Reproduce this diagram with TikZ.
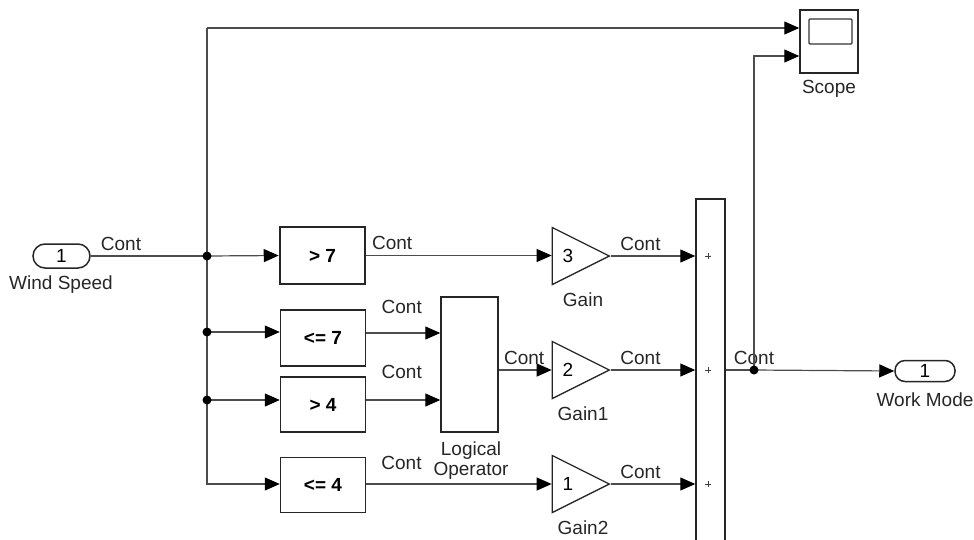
\documentclass[tikz,border=0pt]{standalone}
\usepackage{fontspec}
\setmainfont{Liberation Sans}
\usetikzlibrary{arrows.meta,shapes.geometric,calc}
\newcommand{\simfont}{\fontsize{19}{22}\selectfont}
\tikzset{
	blk/.style={draw=black!85,line width=1.5pt,fill=white,minimum width=85pt,font=\simfont\bfseries,inner sep=0pt},
	port/.style={draw=black!85,line width=1.5pt,rounded corners=10pt,minimum height=21pt,font=\simfont,inner sep=0pt},
	gain/.style={draw=black!85,line width=1.3pt,isosceles triangle,isosceles triangle stretches,minimum width=57pt,minimum height=57pt,inner sep=0pt,font=\simfont,anchor=apex},
	wire/.style={black!70,line width=1.2pt},
	sig/.style={wire,-{Triangle[length=15pt,width=13pt,color=black]}},
	cont/.style={above,font=\simfont,inner sep=5pt,text=black!85},
	dot/.style={circle,fill=black,inner sep=0pt,minimum size=9pt},
	caption/.style={font=\simfont,text=black!85,align=center}
}
\begin{document}
\begin{tikzpicture}[x=1pt,y=-1pt]
	\useasboundingbox (0,0) rectangle (974,539);
	%Cong vao
	\node[port,minimum width=57pt,minimum height=24pt,rounded corners=12pt] (wind) at (61.5,256) {1};
	\node[caption] (windlbl) at (61,285) {Wind Speed};
	%Khoi so sanh
	\node[blk,minimum height=57pt,line width=2.5pt] (gt7) at (322.5,255.5) {> 7};
	\node[blk,minimum height=56pt] (le7) at (323,338) {<= 7};
	\node[blk,minimum height=55pt] (gt4) at (323,404.5) {> 4};
	\node[blk,minimum height=55pt] (le4) at (323,485) {<= 4};
	%Logical Operator
	\node[blk,minimum width=57pt,minimum height=135pt] (logic) at (469.5,364.5) {};
	\node[caption] (logiclbl) at (471,461) {Logical\\[-2pt]Operator};
	%Gain
	\node[gain] (gain) at (611,256) {3\hspace{13pt}};
	\node[gain] (gain1) at (611,370) {2\hspace{13pt}};
	\node[gain] (gain2) at (611,484) {1\hspace{13pt}};
	\node[caption] (gainlbl) at (583,300) {Gain};
	\node[caption] (gain1lbl) at (583,414) {Gain1};
	\node[caption] (gain2lbl) at (583,528) {Gain2};
	%Khoi cong
	\node[blk,minimum width=29pt,minimum height=370pt,anchor=north] (sum) at (710.5,198) {};
	\foreach \y in {256,370,484}
		\draw[black!75,line width=0.9pt] (705,\y) -- (711,\y) (708,\y-3) -- (708,\y+3);
	%Scope
	\node[blk,minimum width=58pt,minimum height=63pt] (scope) at (829,41.5) {};
	\draw[black!80,line width=1.3pt,rounded corners=1pt] (809,19) rectangle (852,44);
	\node[caption] (scopelbl) at (829,89) {Scope};
	%Cong ra
	\node[port,minimum width=60pt] (mode) at (925,371) {1};
	\node[caption] (modelbl) at (925,400) {Work Mode};
	%Diem nut
	\coordinate (j1) at (207,256);
	\coordinate (j2) at (207,332);
	\coordinate (j3) at (207,400);
	\coordinate (c1) at (207,484);
	\coordinate (c0) at (207,28);
	\coordinate (jo) at (754,370);
	\coordinate (c5) at (754,56);
	%Day noi
	\draw[wire] (wind.east) -- (j1) node[cont,pos=0.26]{Cont};
	\draw[sig] (j1) -- (gt7.west);
	\draw[sig] (j2) -- (j2 -| le7.west);
	\draw[sig] (j3) -- (j3 -| gt4.west);
	\draw[sig] (c0) -- (c1) -- (c1 -| le4.west);
	\draw[sig] (c0) -- (c0 -| scope.west);
	\draw[sig] (gt7.east) -- (gain.left corner |- gt7.east) node[cont,pos=0.14]{Cont};
	\draw[sig] (le7.east |- 0,333) -- (logic.west |- 0,333) node[cont,pos=0.48,yshift=14pt]{Cont};
	\draw[sig] (gt4.east |- 0,400) -- (logic.west |- 0,400) node[cont,pos=0.48,yshift=16pt]{Cont};
	\draw[sig] (le4.east |- c1) -- (gain2.left corner |- c1) node[cont,pos=0.19,yshift=9pt]{Cont};
	\draw[sig] (logic.east |- jo) -- (gain1.left corner |- jo) node[cont,pos=0.48]{Cont};
	\draw[sig] (gain.apex) -- (sum.west |- gain.apex) node[cont,pos=0.35]{Cont};
	\draw[sig] (gain1.apex) -- (sum.west |- gain1.apex) node[cont,pos=0.35]{Cont};
	\draw[sig] (gain2.apex) -- (sum.west |- gain2.apex) node[cont,pos=0.35]{Cont};
	\draw[wire] (sum.east |- jo) -- (jo) node[cont,pos=1]{Cont};
	\draw[sig] (jo) -- (mode.west);
	\draw[sig] (jo) -- (c5) -- (c5 -| scope.west);
	\foreach \p in {j1,j2,j3,jo}
		\node[dot] (dot\p) at (\p) {};
\end{tikzpicture}
\end{document}
